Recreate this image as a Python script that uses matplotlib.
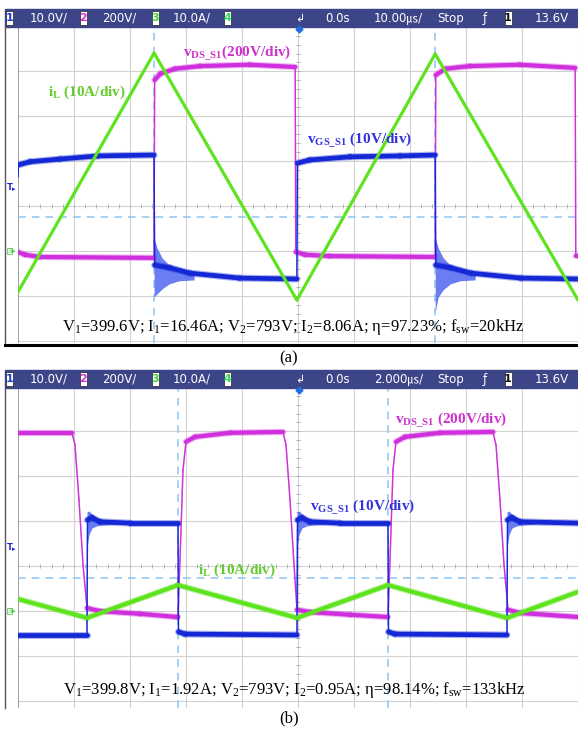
import numpy as np
import matplotlib
matplotlib.use("Agg")
import matplotlib.pyplot as plt
from matplotlib.patches import Rectangle
from matplotlib.collections import LineCollection

plt.rcParams['mathtext.fontset'] = 'custom'
plt.rcParams['mathtext.rm'] = 'Liberation Serif'
plt.rcParams['mathtext.it'] = 'Liberation Serif:italic'
plt.rcParams['mathtext.bf'] = 'Liberation Serif:bold'

# ---- panel (a) traces, time in divisions (10us/div), level in divisions ----
a_il_t = [0.0, 2.43, 4.98, 7.45, 10.0]
a_il_v = [1.09, 6.41, 0.91, 6.39, 0.91]

a_vds_t = [0, 0.125, 0.39, 2.43, 2.44, 2.54, 2.80, 3.25, 4.14, 4.95, 4.96, 5.13, 5.57,
           7.45, 7.46, 7.63, 8.07, 8.96, 9.95, 9.96, 10.0]
a_vds_v = [1.98, 1.92, 1.87, 1.85, 5.81, 5.95, 6.06, 6.12, 6.15, 6.10, 1.98, 1.92, 1.89,
           1.87, 5.92, 6.06, 6.12, 6.15, 6.08, 1.89, 1.89]

a_vgs_t = [0, 0.009, 0.214, 0.75, 1.43, 2.43, 2.44, 2.71, 3.07, 3.96, 4.98, 4.99, 5.21,
           5.93, 6.82, 7.45, 7.46, 7.73, 8.09, 8.98, 10.0]
a_vgs_v = [3.65, 3.92, 3.99, 4.05, 4.12, 4.14, 1.69, 1.63, 1.51, 1.40, 1.38, 3.96, 4.03,
           4.10, 4.12, 4.14, 1.69, 1.63, 1.51, 1.40, 1.38]

# ringing after the vGS falling edges
a_ring_dt = [0, 0.054, 0.143, 0.268, 0.446, 0.714]
a_ring_hi = [2.29, 2.07, 1.85, 1.69, 1.58, 1.49]
a_ring_lo1 = [0.98, 1.05, 1.16, 1.27, 1.34, 1.36]
a_ring_lo2 = [0.65, 0.98, 1.14, 1.27, 1.34, 1.36]
a_edges = [2.43, 7.45]

# ---- panel (b) traces, 2us/div ----
b_il_t = [0, 1.232, 2.857, 4.982, 6.607, 8.732, 10.0]
b_il_v = [2.27, 1.85, 2.58, 1.85, 2.58, 1.85, 2.43]

b_vds_t = [0, 0.964, 1.018, 1.089, 1.161, 1.232, 1.464, 2.179, 2.839, 2.857, 2.893, 2.946,
           3.0, 3.161, 3.786, 4.732, 4.786, 4.857, 4.929, 4.982, 5.214, 5.929, 6.607, 6.643,
           6.696, 6.75, 6.911, 7.536, 8.482, 8.536, 8.607, 8.679, 8.75, 8.964, 10.0]
b_vds_v = [5.97, 5.97, 5.70, 4.48, 3.03, 2.07, 2.00, 1.94, 1.87, 1.87, 3.14, 5.14,
           5.77, 5.88, 5.97, 5.99, 5.70, 4.48, 3.03, 2.03, 1.98, 1.92, 1.87, 3.14,
           5.14, 5.77, 5.88, 5.97, 5.99, 5.70, 4.48, 3.03, 2.03, 1.96, 1.87]

b_vgs_t = [0, 1.232, 1.241, 1.321, 1.464, 2.0, 2.857, 2.866, 2.982, 4.982, 4.991, 5.071,
           5.214, 5.75, 6.607, 6.616, 6.732, 8.732, 8.741, 8.821, 8.964, 10.0]
b_vgs_v = [1.47, 1.47, 4.03, 4.08, 3.99, 3.96, 3.96, 1.54, 1.49, 1.47, 4.03, 4.08,
           3.99, 3.96, 3.96, 1.54, 1.49, 1.47, 4.03, 4.08, 3.99, 3.96]

b_ring_dt = [0, 0.036, 0.089, 0.179, 0.321, 0.5]
b_ring_hi = [4.21, 4.23, 4.16, 4.08, 4.01, 3.99]
b_ring_lo = [3.41, 3.70, 3.85, 3.90, 3.92, 3.94]
b_edges = [1.232, 4.982, 8.732]

hdr_a = ['10.0V/', '200V/', '10.0A/', '0.0s', '10.00㎲/', 'Stop', '13.6V']
hdr_b = ['10.0V/', '200V/', '10.0A/', '0.0s', '2.000㎲/', 'Stop', '13.6V']
meas_a = r"V$_1$=399.6V; I$_1$=16.46A; V$_2$=793V; I$_2$=8.06A; η=97.23%; f$_{\rm sw}$=20kHz"
meas_b = r"V$_1$=399.8V; I$_1$=1.92A; V$_2$=793V; I$_2$=0.95A; η=98.14%; f$_{\rm sw}$=133kHz"

GREEN = '#5ee31f'
MAG = '#cf2fdc'
BLUE = '#1428d6'
W, H = 578, 729

fig = plt.figure(figsize=(W / 100, H / 100), dpi=100)
fig.patch.set_facecolor('white')


def trace(ax, t, v, color, thick, thin=1.0, fuzz=True):
    t = np.asarray(t); v = np.asarray(v)
    segs = [[(t[i], v[i]), (t[i + 1], v[i + 1])] for i in range(len(t) - 1)]
    slope = np.abs(np.diff(v) * 44.9) / (np.abs(np.diff(t) * 56) + 1e-9)
    lws = np.where(slope < 2.5, thick, thin)
    if fuzz:
        ax.add_collection(LineCollection(segs, colors=color, linewidths=lws + 1.6 * (lws > thin),
                                         alpha=0.35, capstyle='round', zorder=3))
    ax.add_collection(LineCollection(segs, colors=color, linewidths=lws,
                                     capstyle='round', joinstyle='round', zorder=4))


def screen(top, bottom, ylo):
    ax = fig.add_axes([18 / W, 1 - bottom / H, 560 / W, (bottom - top) / H])
    ax.set_xlim(0, 10)
    ax.set_ylim(ylo, 6.99)
    ax.axis('off')
    for k in range(1, 11):
        ax.axvline(k, color='#d2d2d2', lw=0.8, zorder=1)
    for k in range(0, 7):
        ax.axhline(k, color='#d2d2d2', lw=0.8, zorder=1)
    ax.axvline(0, color='#8c8c8c', lw=1.2, zorder=1)
    mt = np.arange(0.2, 10, 0.2)
    ax.plot(mt, np.full_like(mt, 3.0), ls='none', marker='|', ms=3, color='#b0b0b0', mew=0.7, zorder=1)
    mv = np.arange(0.2, 7, 0.2)
    ax.plot(np.full_like(mv, 5.0), mv, ls='none', marker='_', ms=3, color='#b0b0b0', mew=0.7, zorder=1)
    return ax


def cursors(ax, xs, y):
    for x in xs:
        ax.axvline(x, color='#8ec4f0', lw=1.1, ls=(0, (5, 4)), zorder=2)
    ax.axhline(y, color='#8ec4f0', lw=1.1, ls=(0, (5, 4)), zorder=2)


axA = screen(27, 343, -0.045)
cursors(axA, [2.43, 7.45], 2.76)
trace(axA, a_vds_t, a_vds_v, MAG, 3.0, 1.0)
for e, lo in zip(a_edges, [a_ring_lo1, a_ring_lo2]):
    axA.fill_between(e + np.array(a_ring_dt), lo, a_ring_hi, color='#3a52f0', alpha=0.75, lw=0, zorder=3)
trace(axA, a_vgs_t, a_vgs_v, BLUE, 3.4, 1.0)
trace(axA, a_il_t, a_il_v, GREEN, 2.3, 2.3, fuzz=False)

axB = screen(387, 708, -0.156)
cursors(axB, [2.857, 6.607], 2.74)
trace(axB, b_vds_t, b_vds_v, MAG, 3.0, 1.0)
for e in b_edges:
    axB.fill_between(e + np.array(b_ring_dt), b_ring_lo, b_ring_hi, color='#3a52f0', alpha=0.75, lw=0, zorder=3)
trace(axB, b_vgs_t, b_vgs_v, BLUE, 3.4, 1.0)
trace(axB, b_il_t, b_il_v, GREEN, 3.0, 1.0)

# ---- overlay in pixel coordinates ----
ov = fig.add_axes([0, 0, 1, 1], zorder=5)
ov.set_xlim(0, W)
ov.set_ylim(H, 0)
ov.axis('off')
ov.patch.set_alpha(0)

box_x = [9.5, 83, 155.5, 227, 508]
box_txt = ['1', '2', '3', '4', '1']
box_col = ['#1c3fd0', '#d030d8', '#3ed13e', '#2ed860', '#111111']
txt_x = [30, 102, 173, 325, 374, 437, 535]


def header(y0, items, bottom):
    ov.add_patch(Rectangle((5, y0), 573, 17.5, color='#3d4589', zorder=1))
    yc = y0 + 9
    for x, s, c in zip(box_x, box_txt, box_col):
        ov.add_patch(Rectangle((x - 3.5, y0 + 1.5), 7, 14.5, facecolor='white',
                               edgecolor='#222222', lw=0.5, zorder=2))
        ov.text(x, yc, s, color=c, fontsize=8, fontweight='bold', ha='center', va='center', zorder=3)
    for x, s in zip(txt_x, items):
        ov.text(x, yc, s, color='white', fontsize=8.5, ha='left', va='center',
                family=['DejaVu Sans', 'Noto Sans CJK JP'], zorder=3)
    ov.text(485, yc, 'ƒ', color='white', fontsize=8.5, ha='center', va='center', zorder=3)
    ov.text(300, yc + 1.5, '↲', color='white', fontsize=8, ha='center', va='center', zorder=3)
    ov.plot([299], [y0 + 19.5], marker='D', ms=3.5, color='#1f6fe0', zorder=3)
    ov.plot([5, 5], [y0 + 17.5, bottom], color='#555555', lw=1.0)


header(9, hdr_a, 345)
header(370, hdr_b, 708)
ov.plot([5, 578], [345, 345], color='black', lw=2.2)

# channel markers on the left
for yT, yG in [(187, 251), (547, 611)]:
    ov.text(7, yT, 'T', color=BLUE, fontsize=6, fontweight='bold', ha='left', va='center')
    ov.text(12, yT + 2, '▸', color=BLUE, fontsize=5, ha='left', va='center')
    ov.text(7, yG, '3', color='#3ac83a', fontsize=5, ha='left', va='center',
            bbox=dict(boxstyle='square,pad=0.05', fc='white', ec='#3ac83a', lw=0.5))
    ov.text(12, yG, '▸', color='#3ac83a', fontsize=5, ha='left', va='center')

lab = dict(fontsize=11, fontweight='bold', family='Liberation Serif', ha='left', va='center')
ov.text(48, 92, r"i$_{\mathbf{L}}$ (10A/div)", color='#66cc2e', **lab)
ov.text(183, 53, r"v$_{\mathbf{DS\_S1}}$(200V/div)", color='#cc33cc', **lab)
ov.text(307, 140, r"v$_{\mathbf{GS\_S1}}$ (10V/div)", color='#3333dd', **lab)
ov.text(395, 420, r"v$_{\mathbf{DS\_S1}}$ (200V/div)", color='#cc33cc', **lab)
ov.text(310, 507, r"v$_{\mathbf{GS\_S1}}$ (10V/div)", color='#3333dd', **lab)
ov.text(198, 570, r"i$_{\mathbf{L}}$ (10A/div)", color='#66cc2e', **lab)

ov.text(293, 327, meas_a, fontsize=12, family='Liberation Serif', ha='center', va='center')
ov.text(294, 690, meas_b, fontsize=12, family='Liberation Serif', ha='center', va='center')
ov.text(289, 358, '(a)', fontsize=12, family='Liberation Serif', ha='center', va='center')
ov.text(289, 718, '(b)', fontsize=12, family='Liberation Serif', ha='center', va='center')

fig.savefig('out.png', dpi=100)
